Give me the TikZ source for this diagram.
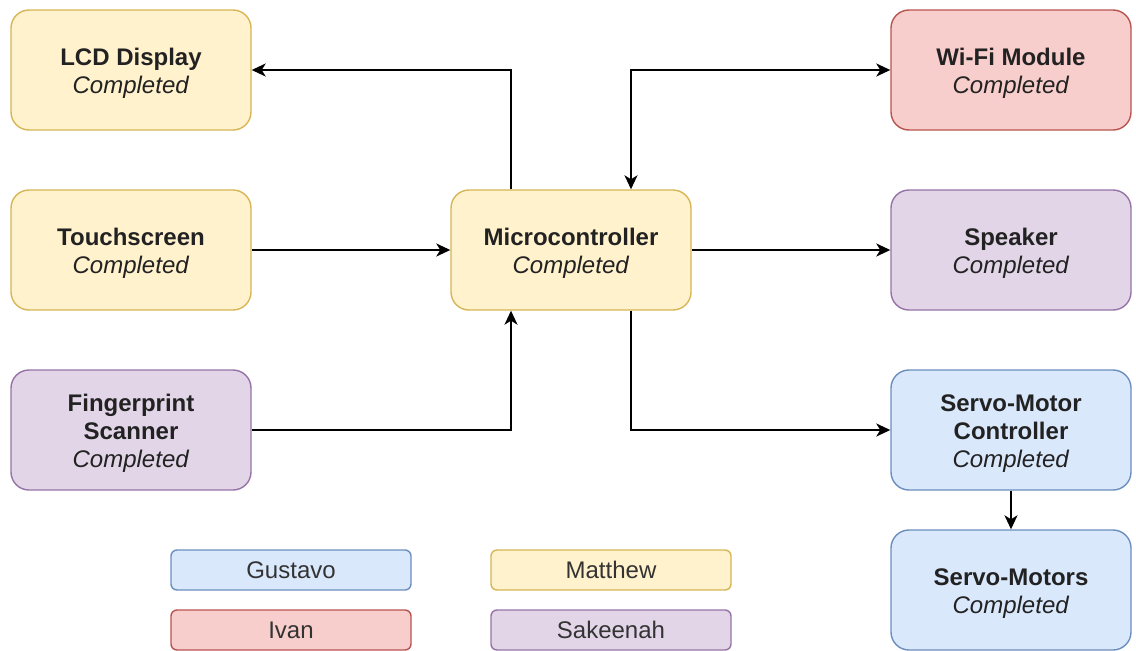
\documentclass[tikz,border=0pt]{standalone}
\usepackage{fontspec}
\setmainfont{Liberation Sans}
\usetikzlibrary{arrows.meta}

\definecolor{yellowfill}{HTML}{FFF2CC}
\definecolor{yellowline}{HTML}{D6B656}
\definecolor{redfill}{HTML}{F8CECC}
\definecolor{redline}{HTML}{B85450}
\definecolor{purplefill}{HTML}{E1D5E7}
\definecolor{purpleline}{HTML}{9673A6}
\definecolor{bluefill}{HTML}{DAE8FC}
\definecolor{blueline}{HTML}{6C8EBF}
\definecolor{textgray}{HTML}{222222}
\definecolor{legendtext}{HTML}{333333}

\tikzset{
  block/.style={rounded corners=18pt, minimum width=240pt, minimum height=120pt,
    line width=1.4pt, align=center, inner sep=0pt, text=textgray,
    font=\fontsize{24}{28}\selectfont},
  legend/.style={rounded corners=6pt, minimum width=240pt, minimum height=40pt,
    line width=1.4pt, align=center, inner sep=0pt, text=legendtext,
    font=\fontsize{24}{28}\selectfont},
  yel/.style={fill=yellowfill, draw=yellowline},
  red/.style={fill=redfill, draw=redline},
  pur/.style={fill=purplefill, draw=purpleline},
  blu/.style={fill=bluefill, draw=blueline},
  link/.style={line width=1.8pt, -{Stealth[length=14pt,width=13pt,inset=4pt]}},
  twoway/.style={line width=1.8pt, {Stealth[length=14pt,width=13pt,inset=4pt]}-{Stealth[length=14pt,width=13pt,inset=4pt]}},
}

% fixed line metrics so every block sets its text at the same height
\newcommand{\firstline}{\rule{0pt}{24pt}}
\newcommand{\lastline}{\rule[-5pt]{0pt}{5pt}}
\newcommand{\blocktext}[1]{\firstline\textbf{#1}\\\textit{Completed}\lastline}

\begin{document}
\begin{tikzpicture}[x=1pt, y=-1pt]
\useasboundingbox (0,0) rectangle (1136,651);

% component blocks
\node[block, yel] (lcd)    at (131,70)   {\blocktext{LCD Display}};
\node[block, yel] (touch)  at (131,250)  {\blocktext{Touchscreen}};
\node[block, pur] (finger) at (131,430)  {\firstline\textbf{Fingerprint}\\\textbf{Scanner}\\\textit{Completed}\lastline};
\node[block, yel] (micro)  at (571,250)  {\blocktext{Microcontroller}};
\node[block, red] (wifi)   at (1011,70)  {\blocktext{Wi-Fi Module}};
\node[block, pur] (spk)    at (1011,250) {\blocktext{Speaker}};
\node[block, blu] (servoc) at (1011,430) {\firstline\textbf{Servo-Motor}\\\textbf{Controller}\\\textit{Completed}\lastline};
\node[block, blu] (servom) at (1011,590) {\blocktext{Servo-Motors}};

% team legend
\node[legend, blu] (gus) at (291,570) {Gustavo};
\node[legend, yel] (mat) at (611,570) {Matthew};
\node[legend, red] (ivan) at (291,630) {Ivan};
\node[legend, pur] (sak) at (611,630) {Sakeenah};

% connections
\draw[link] ([xshift=-60pt]micro.north) |- (lcd.east);
\draw[twoway] (wifi.west) -| ([xshift=60pt]micro.north);
\draw[link] (touch.east) -- (micro.west);
\draw[link] (finger.east) -| ([xshift=-60pt]micro.south);
\draw[link] (micro.east) -- (spk.west);
\draw[link] ([xshift=60pt]micro.south) |- (servoc.west);
\draw[link] (servoc.south) -- (servom.north);
\end{tikzpicture}
\end{document}
